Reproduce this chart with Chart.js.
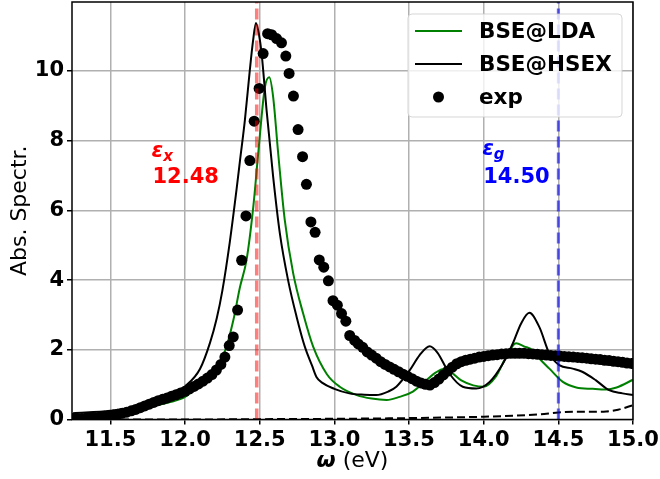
<!DOCTYPE html>
<html>
<head>
<meta charset="utf-8">
<script src="https://cdn.jsdelivr.net/npm/chart.js@4.4.0/dist/chart.umd.min.js"></script>
<style>
  html, body { margin: 0; padding: 0; background: #fff; }
  #wrap { width: 660px; height: 479px; }
</style>
</head>
<body>
<div id="wrap"><canvas id="spectrum"></canvas></div>
<script>
// Axis ticks
const xTicks = [11.5, 12.0, 12.5, 13.0, 13.5, 14.0, 14.5, 15.0];
const yTicks = [0, 2, 4, 6, 8, 10];

// Marked energies (eV)
const excitonE = 12.48;
const gapE = 14.50;

// BSE on top of LDA
const ldaE = [11.25, 11.5, 11.75, 11.9, 12.0, 12.1, 12.2, 12.27, 12.323, 12.368,
  12.412, 12.457, 12.49, 12.535, 12.564, 12.59, 12.624, 12.668, 12.724, 12.791,
  12.858, 12.95, 13.036, 13.15, 13.25, 13.35, 13.437, 13.526, 13.616, 13.68,
  13.73, 13.78, 13.85, 13.93, 14.0, 14.08, 14.15, 14.217, 14.27, 14.329,
  14.373, 14.44, 14.53, 14.62, 14.73, 14.82, 14.89, 15.0];
const ldaAbs = [0.12, 0.18, 0.35, 0.5, 0.65, 1.0, 1.45, 1.99, 2.84, 3.8,
  4.58, 6.1, 7.63, 9.54, 9.82, 9.26, 7.63, 5.72, 4.2, 3.04,
  2.09, 1.3, 0.94, 0.7, 0.6, 0.56, 0.65, 0.8, 1.13, 1.35,
  1.45, 1.36, 1.12, 0.98, 0.94, 1.22, 1.79, 2.19, 2.1, 1.99,
  1.75, 1.46, 1.08, 0.92, 0.88, 0.86, 0.92, 1.14];

// BSE on top of HSEX
const hsexE = [11.25, 11.5, 11.77, 11.9, 12.0, 12.1, 12.167, 12.212, 12.25, 12.3,
  12.345, 12.368, 12.401, 12.434, 12.455, 12.475, 12.495, 12.513, 12.546, 12.59,
  12.635, 12.69, 12.747, 12.802, 12.85, 12.88, 12.92, 13.0, 13.1, 13.2,
  13.28, 13.36, 13.415, 13.504, 13.57, 13.638, 13.69, 13.77, 13.86, 13.95,
  14.04, 14.128, 14.195, 14.25, 14.306, 14.373, 14.44, 14.506, 14.596, 14.66,
  14.75, 14.84, 14.93, 15.0];
const hsexAbs = [0.18, 0.25, 0.45, 0.68, 0.95, 1.45, 2.2, 2.9, 3.7, 5.1,
  6.6, 7.43, 8.6, 10.03, 10.85, 11.38, 11.05, 10.5, 8.88, 6.97,
  5.34, 4.0, 2.95, 2.09, 1.55, 1.22, 1.05, 0.88, 0.75, 0.71,
  0.7, 0.8, 0.94, 1.41, 1.84, 2.1, 1.92, 1.32, 0.94, 0.89,
  1.08, 1.6, 2.18, 2.75, 3.06, 2.65, 1.89, 1.56, 1.46, 1.37,
  1.13, 0.84, 0.75, 0.7];

// Background spectrum (dashed)
const bgE = [11.25, 12.0, 12.5, 13.0, 13.5, 14.0, 14.2, 14.373, 14.5, 14.6,
  14.7, 14.82, 14.9, 15.0];
const bgAbs = [0.0, 0.0, 0.01, 0.02, 0.04, 0.08, 0.11, 0.15, 0.2, 0.22,
  0.22, 0.23, 0.28, 0.41];

// Measured absorption
const expE = [11.25, 11.28, 11.31, 11.34, 11.37, 11.40, 11.43, 11.46, 11.49, 11.52,
  11.55, 11.58, 11.61, 11.64, 11.67, 11.70, 11.73, 11.76, 11.79, 11.82,
  11.85, 11.88, 11.91, 11.94, 11.97, 12.00, 12.03, 12.06, 12.09, 12.12,
  12.15, 12.18, 12.21, 12.24, 12.267, 12.296, 12.323, 12.352, 12.379, 12.408,
  12.434, 12.463, 12.496, 12.523, 12.553, 12.58, 12.613, 12.646, 12.675, 12.697,
  12.726, 12.757, 12.787, 12.813, 12.843, 12.871, 12.899, 12.929, 12.96, 12.991,
  13.02, 13.048, 13.077, 13.103, 13.136, 13.16, 13.19, 13.22, 13.25, 13.28,
  13.31, 13.34, 13.37, 13.40, 13.43, 13.46, 13.49, 13.52, 13.55, 13.58,
  13.61, 13.64, 13.67, 13.70, 13.73, 13.76, 13.79, 13.82, 13.85, 13.88,
  13.91, 13.94, 13.97, 14.00, 14.03, 14.06, 14.09, 14.12, 14.15, 14.18,
  14.21, 14.24, 14.27, 14.30, 14.33, 14.36, 14.39, 14.42, 14.45, 14.48,
  14.51, 14.54, 14.57, 14.60, 14.63, 14.66, 14.69, 14.72, 14.75, 14.78,
  14.81, 14.84, 14.87, 14.90, 14.93, 14.96, 14.99];
const expAbs = [0.03, 0.03, 0.03, 0.04, 0.04, 0.05, 0.07, 0.09, 0.11, 0.13,
  0.15, 0.18, 0.21, 0.25, 0.29, 0.34, 0.39, 0.44, 0.49, 0.54,
  0.58, 0.62, 0.67, 0.71, 0.76, 0.81, 0.88, 0.95, 1.02, 1.10,
  1.19, 1.29, 1.42, 1.58, 1.79, 2.12, 2.37, 3.14, 4.57, 5.84,
  7.43, 8.56, 9.5, 10.5, 11.07, 11.04, 10.93, 10.81, 10.43, 9.93,
  9.28, 8.32, 7.54, 6.75, 5.67, 5.37, 4.58, 4.37, 3.98, 3.41,
  3.28, 3.04, 2.82, 2.41, 2.27, 2.17, 2.07, 1.94, 1.85, 1.76,
  1.66, 1.58, 1.51, 1.44, 1.37, 1.30, 1.24, 1.17, 1.10, 1.05,
  1.01, 0.99, 1.06, 1.16, 1.28, 1.39, 1.50, 1.60, 1.66, 1.70,
  1.73, 1.76, 1.79, 1.81, 1.83, 1.85, 1.86, 1.88, 1.89, 1.90,
  1.90, 1.90, 1.90, 1.89, 1.88, 1.87, 1.86, 1.85, 1.84, 1.83,
  1.82, 1.81, 1.80, 1.79, 1.78, 1.77, 1.76, 1.74, 1.73, 1.72,
  1.70, 1.69, 1.67, 1.66, 1.64, 1.62, 1.61];

const FONT = '"DejaVu Sans", sans-serif';
const PLOT_TOP = 2;

function toPoints(xs, ys) {
  return xs.map((e, i) => ({ x: e, y: ys[i] }));
}

// pin the top edge of the plot area
const pinTop = {
  id: 'pinTop',
  afterLayout(chart) {
    const y = chart.scales.y;
    chart.chartArea.top = PLOT_TOP;
    chart.chartArea.height = chart.chartArea.bottom - PLOT_TOP;
    y.top = PLOT_TOP;
    y.height = y.bottom - PLOT_TOP;
    y.configure();
  }
};

// dashed vertical markers, their labels, the frame and the axis titles
const decorations = {
  id: 'decorations',
  afterDatasetsDraw(chart) {
    const { ctx, chartArea: a, scales: { x } } = chart;
    ctx.save();

    const marks = [
      { e: excitonE, color: 'rgba(255,0,0,0.5)', width: 3.5, text: 'rgb(255,0,0)', sub: 'x', tx: 11.775, epsDy: -26 },
      { e: gapE, color: 'rgba(0,0,255,0.6)', width: 3, text: 'rgb(0,0,255)', sub: 'g', tx: 13.99, epsDy: -28 }
    ];
    marks.forEach(m => {
      const px = x.getPixelForValue(m.e);
      ctx.save();
      ctx.beginPath();
      ctx.rect(a.left, a.top, a.right - a.left, a.bottom - a.top);
      ctx.clip();
      ctx.strokeStyle = m.color;
      ctx.lineWidth = m.width;
      ctx.setLineDash([11, 5]);
      ctx.beginPath();
      ctx.moveTo(px, a.bottom);
      ctx.lineTo(px, a.top);
      ctx.stroke();
      ctx.restore();

      // label: epsilon with subscript over the energy value
      const lx = x.getPixelForValue(m.tx);
      const base = 183;
      ctx.fillStyle = m.text;
      ctx.textBaseline = 'alphabetic';
      ctx.textAlign = 'left';
      ctx.font = 'italic bold 21px ' + FONT;
      ctx.fillText('\u03b5', lx, base + m.epsDy);
      const w = ctx.measureText('\u03b5').width;
      ctx.font = 'italic bold 15px ' + FONT;
      ctx.fillText(m.sub, lx + w, base + m.epsDy + 4);
      ctx.font = 'bold 21px ' + FONT;
      ctx.fillText(m.e.toFixed(2), lx + 1, base);
    });

    // frame
    ctx.setLineDash([]);
    ctx.strokeStyle = '#000';
    ctx.lineWidth = 1.5;
    ctx.strokeRect(a.left, a.top, a.right - a.left, a.bottom - a.top);

    // axis titles
    ctx.fillStyle = '#000';
    ctx.textBaseline = 'alphabetic';
    ctx.font = 'italic bold 22px ' + FONT;
    const wOmega = ctx.measureText('\u03c9').width;
    ctx.font = '22px ' + FONT;
    const wRest = ctx.measureText(' (eV)').width;
    const cx = (a.left + a.right) / 2;
    const sx = cx - (wOmega + wRest) / 2;
    ctx.font = 'italic bold 22px ' + FONT;
    ctx.fillText('\u03c9', sx, 467);
    ctx.font = '22px ' + FONT;
    ctx.fillText(' (eV)', sx + wOmega, 467);

    ctx.translate(26, (a.top + a.bottom) / 2);
    ctx.rotate(-Math.PI / 2);
    ctx.textAlign = 'center';
    ctx.fillText('Abs. Spectr.', 0, 0);
    ctx.restore();
  },
  afterDraw(chart) {
    // legend box in the upper right corner
    const { ctx } = chart;
    ctx.save();
    const bx = 408, by = 14, bw = 214, bh = 103, r = 4;
    ctx.beginPath();
    ctx.roundRect(bx, by, bw, bh, r);
    ctx.fillStyle = 'rgba(255,255,255,0.8)';
    ctx.fill();
    ctx.strokeStyle = 'rgba(204,204,204,0.8)';
    ctx.lineWidth = 1;
    ctx.stroke();

    const entries = chart.data.datasets.filter(d => d.label);
    entries.forEach((d, i) => {
      const cy = 31 + i * 33;
      if (d.showLine === false) {
        ctx.fillStyle = d.backgroundColor;
        ctx.beginPath();
        ctx.arc(438.5, cy, d.pointRadius, 0, Math.PI * 2);
        ctx.fill();
      } else {
        ctx.strokeStyle = d.borderColor;
        ctx.lineWidth = d.borderWidth;
        ctx.beginPath();
        ctx.moveTo(415, cy);
        ctx.lineTo(462, cy);
        ctx.stroke();
      }
      ctx.fillStyle = '#000';
      ctx.font = 'bold 21.5px ' + FONT;
      ctx.textBaseline = 'middle';
      ctx.textAlign = 'left';
      ctx.fillText(d.label, 479, cy + 1);
    });
    ctx.restore();
  }
};

new Chart(document.getElementById('spectrum'), {
  type: 'scatter',
  data: {
    datasets: [
      {
        label: 'BSE@LDA',
        data: toPoints(ldaE, ldaAbs),
        showLine: true,
        borderColor: '#008000',
        borderWidth: 2,
        pointRadius: 0,
        cubicInterpolationMode: 'monotone',
        clip: 0,
        order: 3
      },
      {
        label: 'BSE@HSEX',
        data: toPoints(hsexE, hsexAbs),
        showLine: true,
        borderColor: '#000',
        borderWidth: 2,
        pointRadius: 0,
        cubicInterpolationMode: 'monotone',
        clip: 0,
        order: 2
      },
      {
        label: 'exp',
        data: toPoints(expE, expAbs),
        showLine: false,
        backgroundColor: '#000',
        borderWidth: 0,
        pointRadius: 5.5,
        clip: 0,
        order: 1
      },
      {
        label: '',
        data: toPoints(bgE, bgAbs),
        showLine: true,
        borderColor: '#000',
        borderWidth: 2,
        borderDash: [8, 4],
        pointRadius: 0,
        cubicInterpolationMode: 'monotone',
        clip: 0,
        order: 4
      }
    ]
  },
  options: {
    responsive: true,
    maintainAspectRatio: false,
    animation: false,
    devicePixelRatio: 1,
    layout: { padding: { top: 2, right: 27, left: 0, bottom: 0 } },
    plugins: {
      legend: { display: false },
      tooltip: { enabled: false }
    },
    scales: {
      x: {
        type: 'linear',
        min: 11.243,
        max: 15.0,
        afterBuildTicks: s => { s.ticks = xTicks.map(v => ({ value: v })); },
        afterFit: s => { s.height = 59.5; s.paddingLeft = 0; s.paddingRight = 0; },
        grid: { color: '#b0b0b0', lineWidth: 1.5, tickColor: '#000', tickLength: 5, tickWidth: 1.5 },
        border: { display: false },
        ticks: {
          color: '#000',
          padding: 3,
          maxRotation: 0,
          font: { family: FONT, size: 21, weight: 'bold' },
          callback: v => v.toFixed(1)
        }
      },
      y: {
        type: 'linear',
        min: 0,
        max: 11.98,
        afterBuildTicks: s => { s.ticks = yTicks.map(v => ({ value: v })); },
        afterFit: s => { s.width = 72; s.paddingTop = 0; s.paddingBottom = 0; },
        grid: { color: '#b0b0b0', lineWidth: 1.5, tickColor: '#000', tickLength: 5, tickWidth: 1.5 },
        border: { display: false },
        ticks: {
          color: '#000',
          padding: 3,
          font: { family: FONT, size: 21, weight: 'bold' },
          callback: v => String(v)
        }
      }
    }
  },
  plugins: [pinTop, decorations]
});
</script>
</body>
</html>
